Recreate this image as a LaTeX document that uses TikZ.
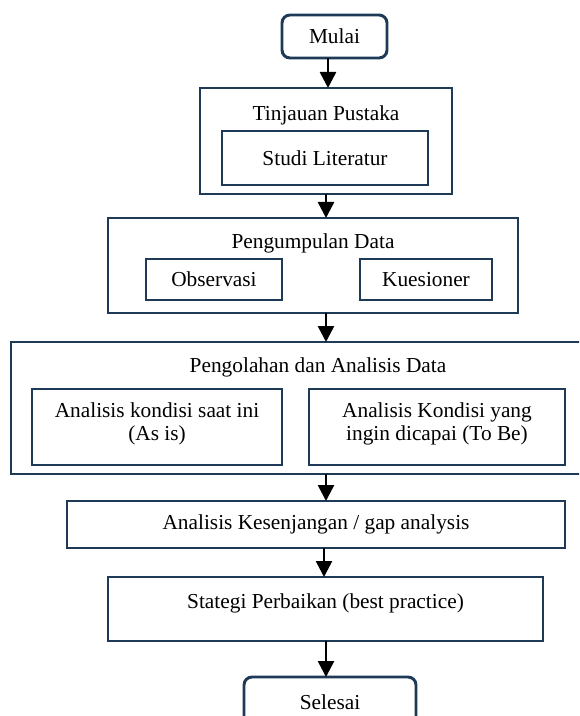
\documentclass[tikz,border=0pt]{standalone}
\usepackage{fontspec}
\setmainfont{Liberation Serif}
\usetikzlibrary{arrows.meta}
\definecolor{boxblue}{RGB}{30,58,86}
\begin{document}
\begin{tikzpicture}[x=0.75pt,y=-0.75pt,
  font=\fontsize{16}{17.5}\selectfont,
  box/.style={draw=boxblue,line width=2.2pt,rectangle,inner sep=0pt,outer sep=0pt,align=center},
  rbox/.style={box,rounded corners=6pt},
  lbl/.style={inner sep=0pt,align=center},
  arr/.style={draw=black,line width=1.9pt,-{Triangle[width=12pt,length=12pt]}}]
\clip (0,0) rectangle (579,716);
\fill[white] (0,0) rectangle (579,716);
\coordinate (ax) at (326,0);
% Mulai
\node[rbox,minimum width=78.75pt,minimum height=32.25pt] (mulai) at (334.5,36.5) {Mulai};
% Tinjauan Pustaka
\node[box,minimum width=189pt,minimum height=79.5pt] (tinj) at (326,141) {};
\node[lbl] (tinjT) at (326,115) {Tinjauan Pustaka};
\node[box,minimum width=154.5pt,minimum height=40.5pt] (studi) at (325,158) {Studi Literatur};
% Pengumpulan Data
\node[box,minimum width=307.5pt,minimum height=71.25pt] (peng) at (313,265.5) {};
\node[lbl] (pengT) at (313,243) {Pengumpulan Data};
\node[box,minimum width=102pt,minimum height=30.75pt] (obs) at (214,279.5) {Observasi};
\node[box,minimum width=99pt,minimum height=30.75pt] (kues) at (426,279.5) {Kuesioner};
% Pengolahan dan Analisis Data
\node[box,minimum width=456.75pt,minimum height=99pt] (olah) at (315.5,408) {};
\node[lbl] (olahT) at (318,367) {Pengolahan dan Analisis Data};
\node[box,minimum width=187.5pt,minimum height=57pt] (asis) at (157,427) {};
\node[lbl] (asisT) at (157,424) {Analisis kondisi saat ini\\(As is)};
\node[box,minimum width=192pt,minimum height=57pt] (tobe) at (437,427) {};
\node[lbl] (tobeT) at (437,424) {Analisis Kondisi yang\\ingin dicapai (To Be)};
% Analisis Kesenjangan
\node[box,minimum width=373.5pt,minimum height=35.25pt] (gap) at (316,524.5) {Analisis Kesenjangan / gap analysis};
% Strategi
\node[box,minimum width=326.25pt,minimum height=48pt] (strat) at (325.5,609) {};
\node[lbl] (stratT) at (325.5,603) {Stategi Perbaikan (best practice)};
% Selesai
\node[rbox,minimum width=129pt,minimum height=36pt] (selesai) at (330,701) {};
\node[lbl] (selT) at (330,702) {Selesai};
% arrows
\draw[arr] (mulai.south -| 328,0) -- (tinj.north -| 328,0);
\draw[arr] (tinj.south -| ax) -- (peng.north -| ax);
\draw[arr] (peng.south -| ax) -- (olah.north -| ax);
\draw[arr] (olah.south -| ax) -- (gap.north -| ax);
\draw[arr] (gap.south -| 324,0) -- (strat.north -| 324,0);
\draw[arr] (strat.south -| ax) -- (selesai.north -| ax);
\end{tikzpicture}
\end{document}
